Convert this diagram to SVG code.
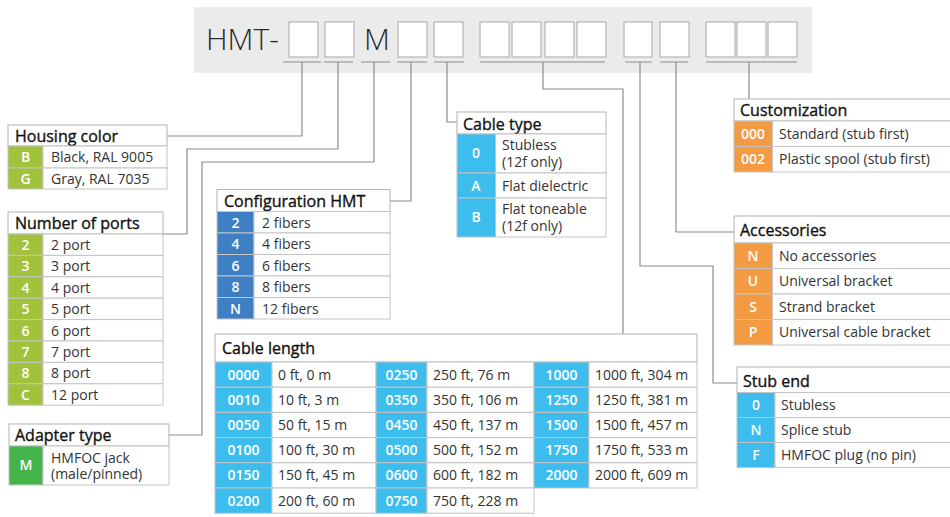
<svg xmlns="http://www.w3.org/2000/svg" width="950" height="517" viewBox="0 0 950 517">
<style>
  text { font-family: "Open Sans", "Noto Sans", "Liberation Sans", sans-serif; }
  .hdr { fill: #ffffff; stroke: #b4b4b4; stroke-width: 1; }
  .cell { fill: #ffffff; stroke: #c4c4c4; stroke-width: 1; }
  .lime { fill: #a2c23b; stroke: #c4c4c4; stroke-width: 1; }
  .green { fill: #43b54b; stroke: #c4c4c4; stroke-width: 1; }
  .blue { fill: #3e7fc3; stroke: #c4c4c4; stroke-width: 1; }
  .cyan { fill: #3dbdee; stroke: #c4c4c4; stroke-width: 1; }
  .orange { fill: #f39a43; stroke: #c4c4c4; stroke-width: 1; }
  .ht { font-size: 16px; font-weight: 400; fill: #111111; stroke: #111111; stroke-width: 0.35px; }
  .dt { font-size: 14px; fill: #333333; }
  .ct { font-size: 14px; font-weight: 600; fill: #ffffff; text-anchor: middle; }
  .slot { fill: #ffffff; stroke: #a8a8a8; stroke-width: 1; }
  .ul { stroke: #8c8c8c; stroke-width: 1; fill: none; }
  .conn { stroke: #8c8c8c; stroke-width: 1.2; fill: none; }
  .big { font-size: 30px; font-weight: 300; fill: #2a2a2a; }
</style>

<g id="code-bar">
  <rect x="194" y="7" width="618" height="66" fill="#ebebeb"/>
  <text class="big" x="206" y="50">HMT-</text>
  <rect class="slot" x="289" y="22" width="29" height="35"/>
  <rect class="slot" x="325" y="22" width="29" height="35"/>
  <text class="big" x="364" y="50">M</text>
  <rect class="slot" x="398" y="22" width="29" height="35"/>
  <rect class="slot" x="434" y="22" width="29" height="35"/>
  <rect class="slot" x="480" y="22" width="29" height="35"/>
  <rect class="slot" x="512" y="22" width="29" height="35"/>
  <rect class="slot" x="545" y="22" width="29" height="35"/>
  <rect class="slot" x="577" y="22" width="29" height="35"/>
  <rect class="slot" x="624" y="22" width="28" height="35"/>
  <rect class="slot" x="660" y="22" width="29" height="35"/>
  <rect class="slot" x="706" y="22" width="29" height="35"/>
  <rect class="slot" x="737" y="22" width="29" height="35"/>
  <rect class="slot" x="768" y="22" width="29" height="35"/>
  <path class="ul" d="M283 62H321 M324 62H353 M361 62H390 M397 62H427 M434 62H464 M480 62H605 M625 62H652 M660 62H688 M706 62H797"/>
</g>

<g id="connectors">
  <polyline class="conn" points="302,62 302,136 167,136"/>
  <polyline class="conn" points="338,62 338,149 187,149 187,234 163,234"/>
  <polyline class="conn" points="374,62 374,162 202,162 202,435 169,435"/>
  <polyline class="conn" points="411,62 411,201 390,201"/>
  <polyline class="conn" points="447,62 447,122 457,122"/>
  <polyline class="conn" points="543,62 543,89 623,89 623,334"/>
  <polyline class="conn" points="640,62 640,266 713,266 713,383 737,383"/>
  <polyline class="conn" points="676,62 676,232 734,232"/>
  <polyline class="conn" points="749,62 749,99"/>
</g>

<g id="housing-color">
  <rect class="hdr" x="8" y="125" width="159" height="21"/>
  <text class="ht" x="15" y="142">Housing color</text>
  <rect class="lime" x="8" y="146" width="35" height="22"/>
  <rect class="cell" x="43" y="146" width="124" height="22"/>
  <text class="ct" x="25.5" y="162">B</text>
  <text class="dt" x="51" y="162">Black, RAL 9005</text>
  <rect class="lime" x="8" y="168" width="35" height="21"/>
  <rect class="cell" x="43" y="168" width="124" height="21"/>
  <text class="ct" x="25.5" y="184">G</text>
  <text class="dt" x="51" y="184">Gray, RAL 7035</text>
</g>

<g id="number-of-ports">
  <rect class="hdr" x="8" y="212" width="155" height="22"/>
  <text class="ht" x="15" y="229">Number of ports</text>
  <rect class="lime" x="8" y="234" width="35" height="21.4"/>
  <rect class="cell" x="43" y="234" width="120" height="21.4"/>
  <text class="ct" x="25.5" y="250">2</text><text class="dt" x="51" y="250">2 port</text>
  <rect class="lime" x="8" y="255.4" width="35" height="21.4"/>
  <rect class="cell" x="43" y="255.4" width="120" height="21.4"/>
  <text class="ct" x="25.5" y="271.4">3</text><text class="dt" x="51" y="271.4">3 port</text>
  <rect class="lime" x="8" y="276.8" width="35" height="21.4"/>
  <rect class="cell" x="43" y="276.8" width="120" height="21.4"/>
  <text class="ct" x="25.5" y="292.8">4</text><text class="dt" x="51" y="292.8">4 port</text>
  <rect class="lime" x="8" y="298.2" width="35" height="21.4"/>
  <rect class="cell" x="43" y="298.2" width="120" height="21.4"/>
  <text class="ct" x="25.5" y="314.2">5</text><text class="dt" x="51" y="314.2">5 port</text>
  <rect class="lime" x="8" y="319.6" width="35" height="21.4"/>
  <rect class="cell" x="43" y="319.6" width="120" height="21.4"/>
  <text class="ct" x="25.5" y="335.6">6</text><text class="dt" x="51" y="335.6">6 port</text>
  <rect class="lime" x="8" y="341" width="35" height="21.4"/>
  <rect class="cell" x="43" y="341" width="120" height="21.4"/>
  <text class="ct" x="25.5" y="357">7</text><text class="dt" x="51" y="357">7 port</text>
  <rect class="lime" x="8" y="362.4" width="35" height="21.4"/>
  <rect class="cell" x="43" y="362.4" width="120" height="21.4"/>
  <text class="ct" x="25.5" y="378.4">8</text><text class="dt" x="51" y="378.4">8 port</text>
  <rect class="lime" x="8" y="383.8" width="35" height="21.4"/>
  <rect class="cell" x="43" y="383.8" width="120" height="21.4"/>
  <text class="ct" x="25.5" y="399.8">C</text><text class="dt" x="51" y="399.8">12 port</text>
</g>

<g id="adapter-type">
  <rect class="hdr" x="9" y="424" width="160" height="22"/>
  <text class="ht" x="15" y="441">Adapter type</text>
  <rect class="green" x="9" y="446" width="34" height="39"/>
  <rect class="cell" x="43" y="446" width="126" height="39"/>
  <text class="ct" x="26" y="470">M</text>
  <text class="dt"><tspan x="51" y="462.5">HMFOC jack</tspan><tspan x="51" y="479">(male/pinned)</tspan></text>
</g>

<g id="configuration-hmt">
  <rect class="hdr" x="217" y="189.5" width="173" height="22"/>
  <text class="ht" x="224" y="206.5">Configuration HMT</text>
  <rect class="blue" x="217" y="211.5" width="37" height="21.5"/>
  <rect class="cell" x="254" y="211.5" width="136" height="21.5"/>
  <text class="ct" x="235.5" y="227.5">2</text><text class="dt" x="262" y="227.5">2 fibers</text>
  <rect class="blue" x="217" y="233" width="37" height="21.5"/>
  <rect class="cell" x="254" y="233" width="136" height="21.5"/>
  <text class="ct" x="235.5" y="249">4</text><text class="dt" x="262" y="249">4 fibers</text>
  <rect class="blue" x="217" y="254.5" width="37" height="21.5"/>
  <rect class="cell" x="254" y="254.5" width="136" height="21.5"/>
  <text class="ct" x="235.5" y="270.5">6</text><text class="dt" x="262" y="270.5">6 fibers</text>
  <rect class="blue" x="217" y="276" width="37" height="21.5"/>
  <rect class="cell" x="254" y="276" width="136" height="21.5"/>
  <text class="ct" x="235.5" y="292">8</text><text class="dt" x="262" y="292">8 fibers</text>
  <rect class="blue" x="217" y="297.5" width="37" height="21.5"/>
  <rect class="cell" x="254" y="297.5" width="136" height="21.5"/>
  <text class="ct" x="235.5" y="313.5">N</text><text class="dt" x="262" y="313.5">12 fibers</text>
</g>

<g id="cable-type">
  <rect class="hdr" x="457" y="112" width="149" height="22"/>
  <text class="ht" x="463" y="129.5">Cable type</text>
  <rect class="cyan" x="457" y="134" width="38.5" height="39"/>
  <rect class="cell" x="495.5" y="134" width="110.5" height="39"/>
  <text class="ct" x="476" y="158">0</text>
  <text class="dt"><tspan x="502" y="150">Stubless</tspan><tspan x="502" y="167">(12f only)</tspan></text>
  <rect class="cyan" x="457" y="173" width="38.5" height="25"/>
  <rect class="cell" x="495.5" y="173" width="110.5" height="25"/>
  <text class="ct" x="476" y="190.5">A</text>
  <text class="dt" x="502" y="190.5">Flat dielectric</text>
  <rect class="cyan" x="457" y="198" width="38.5" height="39"/>
  <rect class="cell" x="495.5" y="198" width="110.5" height="39"/>
  <text class="ct" x="476" y="222">B</text>
  <text class="dt"><tspan x="502" y="213.5">Flat toneable</tspan><tspan x="502" y="230.5">(12f only)</tspan></text>
</g>

<g id="cable-length">
  <rect class="hdr" x="215" y="334" width="482" height="28"/>
  <text class="ht" x="222" y="354">Cable length</text>
  <rect class="cyan" x="215" y="362" width="57" height="25.2"/><rect class="cell" x="272" y="362" width="104" height="25.2"/>
  <text class="ct" x="243.5" y="379.5">0000</text><text class="dt" x="278" y="379.5">0 ft, 0 m</text>
  <rect class="cyan" x="215" y="387.2" width="57" height="25.2"/><rect class="cell" x="272" y="387.2" width="104" height="25.2"/>
  <text class="ct" x="243.5" y="404.7">0010</text><text class="dt" x="278" y="404.7">10 ft, 3 m</text>
  <rect class="cyan" x="215" y="412.4" width="57" height="25.2"/><rect class="cell" x="272" y="412.4" width="104" height="25.2"/>
  <text class="ct" x="243.5" y="429.9">0050</text><text class="dt" x="278" y="429.9">50 ft, 15 m</text>
  <rect class="cyan" x="215" y="437.6" width="57" height="25.2"/><rect class="cell" x="272" y="437.6" width="104" height="25.2"/>
  <text class="ct" x="243.5" y="455.1">0100</text><text class="dt" x="278" y="455.1">100 ft, 30 m</text>
  <rect class="cyan" x="215" y="462.8" width="57" height="25.2"/><rect class="cell" x="272" y="462.8" width="104" height="25.2"/>
  <text class="ct" x="243.5" y="480.3">0150</text><text class="dt" x="278" y="480.3">150 ft, 45 m</text>
  <rect class="cyan" x="215" y="488" width="57" height="25.2"/><rect class="cell" x="272" y="488" width="104" height="25.2"/>
  <text class="ct" x="243.5" y="505.5">0200</text><text class="dt" x="278" y="505.5">200 ft, 60 m</text>
  <rect class="cyan" x="376" y="362" width="51" height="25.2"/><rect class="cell" x="427" y="362" width="107" height="25.2"/>
  <text class="ct" x="401.5" y="379.5">0250</text><text class="dt" x="433" y="379.5">250 ft, 76 m</text>
  <rect class="cyan" x="376" y="387.2" width="51" height="25.2"/><rect class="cell" x="427" y="387.2" width="107" height="25.2"/>
  <text class="ct" x="401.5" y="404.7">0350</text><text class="dt" x="433" y="404.7">350 ft, 106 m</text>
  <rect class="cyan" x="376" y="412.4" width="51" height="25.2"/><rect class="cell" x="427" y="412.4" width="107" height="25.2"/>
  <text class="ct" x="401.5" y="429.9">0450</text><text class="dt" x="433" y="429.9">450 ft, 137 m</text>
  <rect class="cyan" x="376" y="437.6" width="51" height="25.2"/><rect class="cell" x="427" y="437.6" width="107" height="25.2"/>
  <text class="ct" x="401.5" y="455.1">0500</text><text class="dt" x="433" y="455.1">500 ft, 152 m</text>
  <rect class="cyan" x="376" y="462.8" width="51" height="25.2"/><rect class="cell" x="427" y="462.8" width="107" height="25.2"/>
  <text class="ct" x="401.5" y="480.3">0600</text><text class="dt" x="433" y="480.3">600 ft, 182 m</text>
  <rect class="cyan" x="376" y="488" width="51" height="25.2"/><rect class="cell" x="427" y="488" width="107" height="25.2"/>
  <text class="ct" x="401.5" y="505.5">0750</text><text class="dt" x="433" y="505.5">750 ft, 228 m</text>
  <rect class="cyan" x="534" y="362" width="55" height="25.2"/><rect class="cell" x="589" y="362" width="108" height="25.2"/>
  <text class="ct" x="561.5" y="379.5">1000</text><text class="dt" x="595" y="379.5">1000 ft, 304 m</text>
  <rect class="cyan" x="534" y="387.2" width="55" height="25.2"/><rect class="cell" x="589" y="387.2" width="108" height="25.2"/>
  <text class="ct" x="561.5" y="404.7">1250</text><text class="dt" x="595" y="404.7">1250 ft, 381 m</text>
  <rect class="cyan" x="534" y="412.4" width="55" height="25.2"/><rect class="cell" x="589" y="412.4" width="108" height="25.2"/>
  <text class="ct" x="561.5" y="429.9">1500</text><text class="dt" x="595" y="429.9">1500 ft, 457 m</text>
  <rect class="cyan" x="534" y="437.6" width="55" height="25.2"/><rect class="cell" x="589" y="437.6" width="108" height="25.2"/>
  <text class="ct" x="561.5" y="455.1">1750</text><text class="dt" x="595" y="455.1">1750 ft, 533 m</text>
  <rect class="cyan" x="534" y="462.8" width="55" height="25.2"/><rect class="cell" x="589" y="462.8" width="108" height="25.2"/>
  <text class="ct" x="561.5" y="480.3">2000</text><text class="dt" x="595" y="480.3">2000 ft, 609 m</text>
</g>

<g id="customization">
  <rect class="hdr" x="734" y="99" width="220" height="22"/>
  <text class="ht" x="740" y="115.5">Customization</text>
  <rect class="orange" x="734" y="121" width="38.5" height="25.5"/>
  <rect class="cell" x="772.5" y="121" width="181.5" height="25.5"/>
  <text class="ct" x="753" y="138.5">000</text><text class="dt" x="779" y="138.5">Standard (stub first)</text>
  <rect class="orange" x="734" y="146.5" width="38.5" height="25.5"/>
  <rect class="cell" x="772.5" y="146.5" width="181.5" height="25.5"/>
  <text class="ct" x="753" y="164">002</text><text class="dt" x="779" y="164">Plastic spool (stub first)</text>
</g>

<g id="accessories">
  <rect class="hdr" x="734" y="216" width="220" height="27"/>
  <text class="ht" x="740" y="236">Accessories</text>
  <rect class="orange" x="734" y="243" width="38.5" height="25.5"/>
  <rect class="cell" x="772.5" y="243" width="181.5" height="25.5"/>
  <text class="ct" x="753" y="260.5">N</text><text class="dt" x="779" y="260.5">No accessories</text>
  <rect class="orange" x="734" y="268.5" width="38.5" height="25.5"/>
  <rect class="cell" x="772.5" y="268.5" width="181.5" height="25.5"/>
  <text class="ct" x="753" y="286">U</text><text class="dt" x="779" y="286">Universal bracket</text>
  <rect class="orange" x="734" y="294" width="38.5" height="25.5"/>
  <rect class="cell" x="772.5" y="294" width="181.5" height="25.5"/>
  <text class="ct" x="753" y="311.5">S</text><text class="dt" x="779" y="311.5">Strand bracket</text>
  <rect class="orange" x="734" y="319.5" width="38.5" height="25.5"/>
  <rect class="cell" x="772.5" y="319.5" width="181.5" height="25.5"/>
  <text class="ct" x="753" y="337">P</text><text class="dt" x="779" y="337">Universal cable bracket</text>
</g>

<g id="stub-end">
  <rect class="hdr" x="737" y="367" width="220" height="25.5"/>
  <text class="ht" x="743" y="386.5">Stub end</text>
  <rect class="cyan" x="737" y="392.5" width="38" height="25"/>
  <rect class="cell" x="775" y="392.5" width="182" height="25"/>
  <text class="ct" x="756" y="410">0</text><text class="dt" x="781" y="410">Stubless</text>
  <rect class="cyan" x="737" y="417.5" width="38" height="25"/>
  <rect class="cell" x="775" y="417.5" width="182" height="25"/>
  <text class="ct" x="756" y="435">N</text><text class="dt" x="781" y="435">Splice stub</text>
  <rect class="cyan" x="737" y="442.5" width="38" height="25"/>
  <rect class="cell" x="775" y="442.5" width="182" height="25"/>
  <text class="ct" x="756" y="460">F</text><text class="dt" x="781" y="460">HMFOC plug (no pin)</text>
</g>
</svg>
